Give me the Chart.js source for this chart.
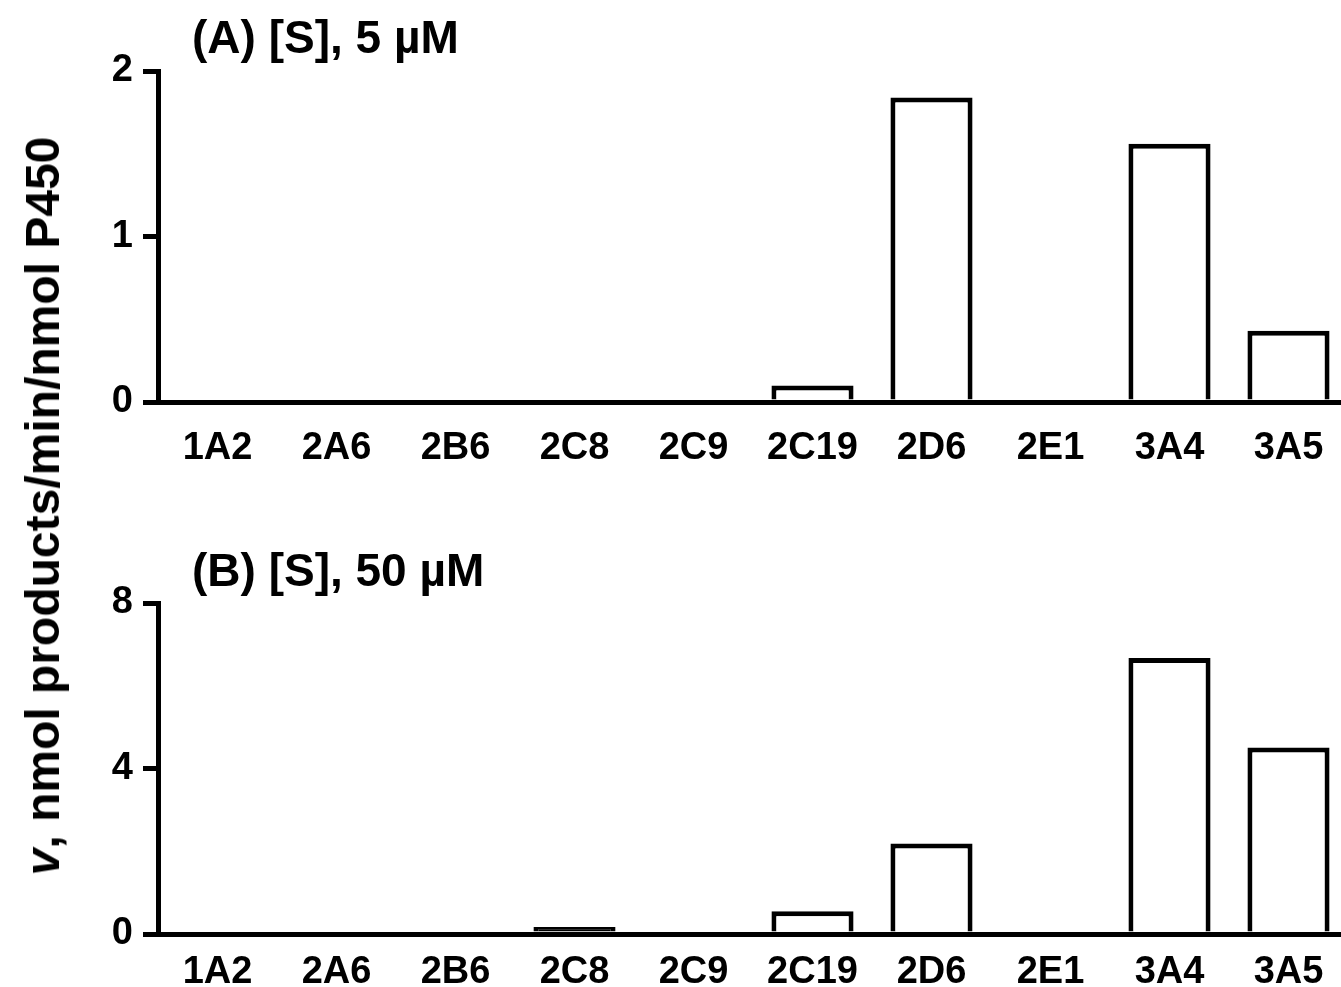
<!DOCTYPE html>
<html>
<head>
<meta charset="utf-8">
<script src="https://cdn.jsdelivr.net/npm/chart.js@4"></script>
<style>
  html, body { margin: 0; padding: 0; background: #fff; overflow: hidden; }
  body { width: 1341px; height: 987px; position: relative; font-family: Arial, 'Liberation Sans', sans-serif; }
  .panel { position: absolute; left: 0; width: 1360px; height: 490px; }
  .title { position: absolute; left: 192px; font-weight: bold; font-size: 46px; line-height: 46px; white-space: nowrap; color: #000; }
  #ytitle {
    position: absolute; left: 43px; top: 506px; font-weight: bold; font-size: 48px; line-height: 48px;
    white-space: nowrap; color: #000; transform: translate(-50%, -50%) rotate(-90deg);
  }
</style>
</head>
<body>
<div class="panel" style="top:0"><canvas id="chartA"></canvas></div>
<div class="panel" style="top:532px"><canvas id="chartB"></canvas></div>
<div class="title" style="top:14px">(A) [S], 5 µM</div>
<div class="title" style="top:547px">(B) [S], 50 µM</div>
<div id="ytitle"><i>v</i>, nmol products/min/nmol P450</div>
<script>
const isoforms = ['1A2', '2A6', '2B6', '2C8', '2C9', '2C19', '2D6', '2E1', '3A4', '3A5'];
const rate5uM = [0, 0, 0, 0, 0, 0.10, 1.84, 0, 1.56, 0.43];
const rate50uM = [0, 0, 0, 0.17, 0, 0.55, 2.19, 0, 6.67, 4.51];
const ticksA = [0, 1, 2];
const ticksB = [0, 4, 8];

const tickFont = { family: "Arial, 'Liberation Sans', sans-serif", size: 38, weight: 'bold' };
const BAR_LINE = 5;

// bars shorter than two border widths come out solid black in the original
function barFill(c) {
    const y = c.chart.scales.y;
    if (!y || c.raw == null) return '#fff';
    const h = y.getPixelForValue(0) - y.getPixelForValue(c.raw);
    return h > 0 && h < BAR_LINE * 2 ? '#000' : '#fff';
}

function makePanel(id, values, yTicks, labelPad) {
    const ctx = document.getElementById(id).getContext('2d');
    return new Chart(ctx, {
        type: 'bar',
        data: {
            labels: isoforms,
            datasets: [{
                data: values,
                backgroundColor: barFill,
                borderColor: '#000',
                borderWidth: BAR_LINE,
                borderSkipped: 'bottom',
                barPercentage: 0.69,
                categoryPercentage: 1,
            }],
        },
        options: {
            responsive: true,
            maintainAspectRatio: false,
            animation: false,
            layout: { padding: { top: 71, right: 12, left: 0, bottom: 0 } },
            plugins: { legend: { display: false }, tooltip: { enabled: false } },
            scales: {
                x: {
                    offset: true,
                    grid: { display: false, drawTicks: false },
                    border: { display: true, color: '#000', width: 5 },
                    ticks: { color: '#000', font: tickFont, padding: labelPad, maxRotation: 0, autoSkip: false },
                    afterFit: (s) => { s.height = 88; },
                },
                y: {
                    min: yTicks[0],
                    max: yTicks[yTicks.length - 1],
                    afterBuildTicks: (s) => { s.ticks = yTicks.map((v) => ({ value: v })); },
                    grid: { drawOnChartArea: false, drawTicks: true, tickLength: 15, lineWidth: 5, tickWidth: 5, color: '#000', tickColor: '#000' },
                    border: { display: true, color: '#000', width: 5 },
                    ticks: { color: '#000', font: tickFont, padding: 10 },
                    afterFit: (s) => { s.width = 158; },
                },
            },
        },
    });
}

makePanel('chartA', rate5uM, ticksA, 24);
makePanel('chartB', rate50uM, ticksB, 16);
</script>
</body>
</html>
